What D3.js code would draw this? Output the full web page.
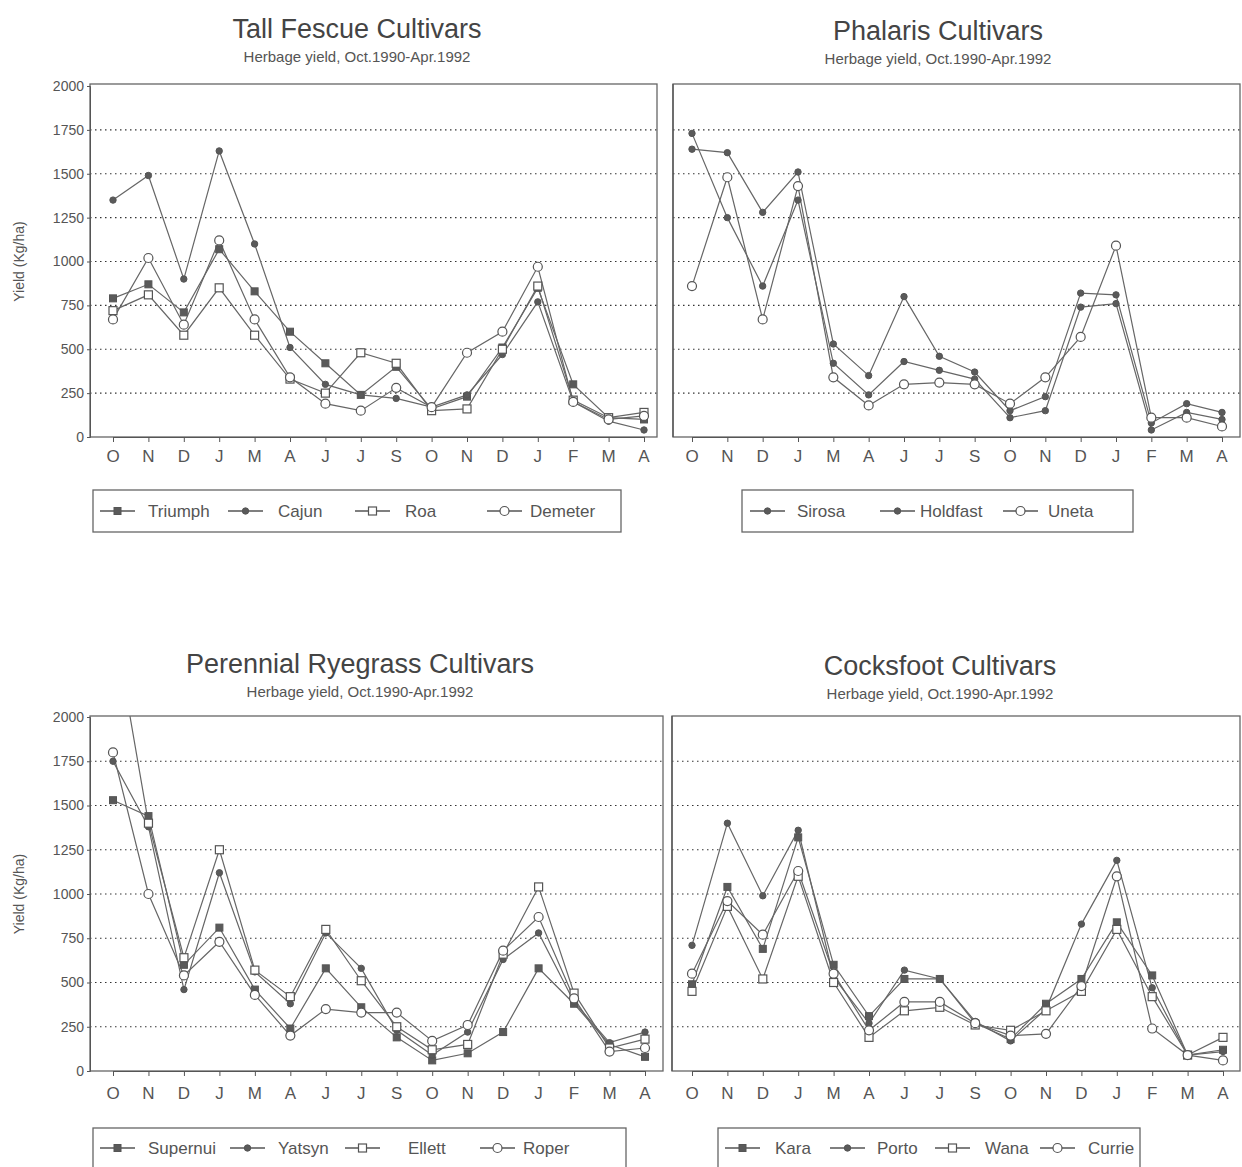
<!DOCTYPE html>
<html><head><meta charset="utf-8">
<script src="https://cdn.jsdelivr.net/npm/d3@7"></script>
<style>body{margin:0;background:#fff}svg{display:block}text{font-family:"Liberation Sans",Arial,sans-serif}</style>
</head><body>
<svg id="c" width="1242" height="1167"></svg>
<script>
const months = ["O","N","D","J","M","A","J","J","S","O","N","D","J","F","M","A"];
const yTicks = [0,250,500,750,1000,1250,1500,1750,2000];
const subtitle = "Herbage yield, Oct.1990-Apr.1992";

// Tall Fescue
const tfNames = ["Triumph","Cajun","Roa","Demeter"];
const tfTriumph = [790,870,710,1070,830,600,420,240,400,160,230,510,850,300,110,100];
const tfCajun   = [1350,1490,900,1630,1100,510,300,240,220,170,240,470,770,200,90,40];
const tfRoa     = [720,810,580,850,580,330,250,480,420,150,160,500,860,210,110,140];
const tfDemeter = [670,1020,640,1120,670,340,190,150,280,170,480,600,970,200,100,120];

// Phalaris
const phNames = ["Sirosa","Holdfast","Uneta"];
const phSirosa   = [1730,1250,860,1350,420,240,430,380,330,110,150,740,760,40,140,100];
const phHoldfast = [1640,1620,1280,1510,530,350,800,460,370,150,230,820,810,80,190,140];
const phUneta    = [860,1480,670,1430,340,180,300,310,300,190,340,570,1090,110,110,60];

// Perennial Ryegrass
const prNames = ["Supernui","Yatsyn","Ellett","Roper"];
const prSupernui = [1530,1440,600,810,460,240,580,360,190,60,100,220,580,380,150,80];
const prYatsyn   = [1750,1380,460,1120,560,380,780,580,230,90,220,630,780,390,160,220];
const prEllett   = [2560,1400,640,1250,570,420,800,510,250,120,150,660,1040,440,130,180];
const prRoper    = [1800,1000,540,730,430,200,350,330,330,170,260,680,870,410,110,130];

// Cocksfoot
const cfNames = ["Kara","Porto","Wana","Currie"];
const cfKara   = [490,1040,690,1320,600,310,520,520,270,180,380,520,840,540,90,120];
const cfPorto  = [710,1400,990,1360,530,270,570,520,280,170,350,830,1190,470,90,110];
const cfWana   = [450,930,520,1100,500,190,340,360,260,230,340,450,800,420,90,190];
const cfCurrie = [550,960,770,1130,550,230,390,390,270,200,210,480,1100,240,90,60];

const INK = "#555";
const svg = d3.select("#c");

function marker(g, type, x, y) {
  if (type === "fsq") g.append("rect").attr("x",x-3.5).attr("y",y-3.5).attr("width",7).attr("height",7).attr("fill","#5a5a5a").attr("stroke",INK);
  else if (type === "fci") g.append("circle").attr("cx",x).attr("cy",y).attr("r",3.2).attr("fill","#5a5a5a").attr("stroke",INK);
  else if (type === "osq") g.append("rect").attr("x",x-4).attr("y",y-4).attr("width",8).attr("height",8).attr("fill","#fff").attr("stroke",INK).attr("stroke-width",1.2);
  else if (type === "oci") g.append("circle").attr("cx",x).attr("cy",y).attr("r",4.5).attr("fill","#fff").attr("stroke",INK).attr("stroke-width",1.2);
}

const panels = [
  {id:"tl", title:"Tall Fescue Cultivars", tx:357, ty:38, box:[90,84,657,437], xr:[113,644], yr:[437,86], ylab:true,
   series:[tfTriumph,tfCajun,tfRoa,tfDemeter], names:tfNames, marks:["fsq","fci","osq","oci"],
   leg:{box:[93,490,528,42], cy:511, items:[[100,148],[228,278],[355,405],[487,530]]}, xly:462},
  {id:"tr", title:"Phalaris Cultivars", tx:938, ty:40, box:[673,84,1240,437], xr:[692,1222], yr:[437,86], ylab:false,
   series:[phSirosa,phHoldfast,phUneta], names:phNames, marks:["fci","fci","oci"],
   leg:{box:[742,490,391,42], cy:511, items:[[750,797],[880,920],[1003,1048]]}, xly:462},
  {id:"bl", title:"Perennial Ryegrass Cultivars", tx:360, ty:673, box:[90,716,663,1071], xr:[113,645], yr:[1071,717], ylab:true,
   series:[prSupernui,prYatsyn,prEllett,prRoper], names:prNames, marks:["fsq","fci","osq","oci"],
   leg:{box:[93,1128,533,45], cy:1148, items:[[100,148],[230,278],[345,408],[480,523]]}, xly:1099},
  {id:"br", title:"Cocksfoot Cultivars", tx:940, ty:675, box:[672,716,1240,1071], xr:[692,1223], yr:[1071,717], ylab:false,
   series:[cfKara,cfPorto,cfWana,cfCurrie], names:cfNames, marks:["fsq","fci","osq","oci"],
   leg:{box:[718,1128,422,45], cy:1148, items:[[725,775],[830,877],[935,985],[1040,1088]]}, xly:1099}
];

panels.forEach(p => {
  const [x0,y0,x1,y1] = p.box;
  const x = d3.scalePoint().domain(d3.range(months.length)).range(p.xr);
  const y = d3.scaleLinear().domain([0,2000]).range(p.yr);
  const g = svg.append("g");

  // titles
  g.append("text").attr("x",p.tx).attr("y",p.ty).attr("text-anchor","middle").attr("font-size",27).attr("fill","#444").text(p.title);
  g.append("text").attr("x",p.tx).attr("y",p.ty+24).attr("text-anchor","middle").attr("font-size",15).attr("fill","#555").text(subtitle);

  // gridlines
  g.selectAll(".grid").data(yTicks.filter(t => t>0 && t<2000)).join("line")
    .attr("x1",x0).attr("x2",x1).attr("y1",d=>y(d)).attr("y2",d=>y(d))
    .attr("stroke","#333").attr("stroke-width",1.1).attr("stroke-dasharray","1.5,3.5");

  // box
  g.append("rect").attr("x",x0).attr("y",y0).attr("width",x1-x0).attr("height",y1-y0)
    .attr("fill","none").attr("stroke","#666").attr("stroke-width",1.3);

  // x axis
  const xa = g.append("g").attr("transform",`translate(0,${y1})`).call(d3.axisBottom(x).tickSize(5).tickFormat(""));
  xa.select(".domain").attr("stroke","#555");
  xa.selectAll(".tick line").attr("stroke","#555");
  g.selectAll(".xl").data(d3.range(months.length)).join("text")
    .attr("x",d=>x(d)).attr("y",p.xly).attr("text-anchor","middle").attr("font-size",17).attr("fill","#555")
    .text(d=>months[d]);

  // y axis
  if (p.ylab) {
    const ya = g.append("g").attr("transform",`translate(${x0},0)`).call(d3.axisLeft(y).tickValues(yTicks).tickSize(3).tickPadding(3).tickFormat(d3.format("d")));
    ya.select(".domain").attr("stroke","#555");
    ya.selectAll(".tick line").attr("stroke","#555");
    ya.selectAll(".tick text").attr("font-size",14).attr("fill","#555").attr("font-family","Liberation Sans, Arial, sans-serif");
    g.append("text").attr("transform",`translate(24,${(y(0)+y(2000))/2}) rotate(-90)`).attr("text-anchor","middle")
      .attr("font-size",14).attr("fill","#555").text("Yield (Kg/ha)");
  } else {
    g.append("line").attr("x1",x0).attr("x2",x0).attr("y1",y0).attr("y2",y1).attr("stroke","#555").attr("stroke-width",1.3);
  }

  // clip
  const cid = "clip-"+p.id;
  svg.append("clipPath").attr("id",cid).append("rect").attr("x",x0).attr("y",y0).attr("width",x1-x0).attr("height",y1-y0+6);
  const plot = g.append("g").attr("clip-path",`url(#${cid})`);
  const line = d3.line().x((d,i)=>x(i)).y(d=>y(d));
  p.series.forEach((s,k) => {
    plot.append("path").datum(s).attr("d",line).attr("fill","none").attr("stroke","#666").attr("stroke-width",1.2);
  });
  p.series.forEach((s,k) => {
    s.forEach((v,i) => marker(plot, p.marks[k], x(i), y(v)));
  });

  // legend
  const L = p.leg;
  g.append("rect").attr("x",L.box[0]).attr("y",L.box[1]).attr("width",L.box[2]).attr("height",L.box[3])
    .attr("fill","none").attr("stroke","#666").attr("stroke-width",1.3);
  L.items.forEach((it,k) => {
    g.append("line").attr("x1",it[0]).attr("x2",it[0]+35).attr("y1",L.cy).attr("y2",L.cy).attr("stroke","#555").attr("stroke-width",1.3);
    marker(g, p.marks[k], it[0]+17.5, L.cy);
    g.append("text").attr("x",it[1]).attr("y",L.cy+6).attr("font-size",17).attr("fill","#555").text(p.names[k]);
  });
});
</script>
</body></html>
